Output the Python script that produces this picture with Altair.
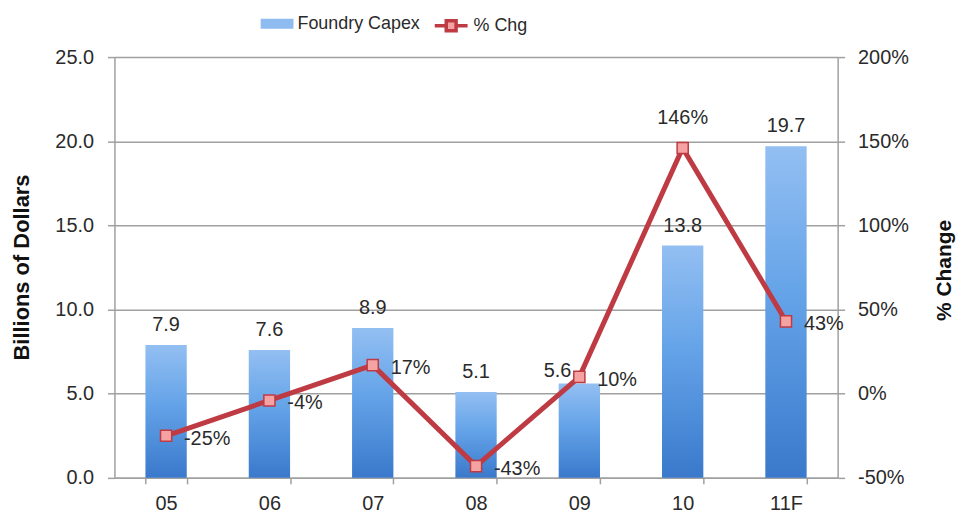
import altair as alt
import pandas as pd

# ---- data ----
years = ["05", "06", "07", "08", "09", "10", "11F"]
capex = [7.9, 7.6, 8.9, 5.1, 5.6, 13.8, 19.7]          # Billions of Dollars
pct_chg = [-25, -4, 17, -43, 10, 146, 43]              # % Change

df = pd.DataFrame({"year": years, "capex": capex, "pct": pct_chg})

FONT = "Liberation Sans"
RED = "#BE3B44"
PINK = "#F4A2A2"
BLUE_LEG = "#8EBBF0"
TXT = "#2a2a2a"
GRAY = "#A0A0A0"
LBL = 20

x_enc = alt.X(
    "year:N", sort=years, title=None,
    scale=alt.Scale(paddingInner=0.6, paddingOuter=0.3),
    axis=alt.Axis(labelAngle=0, labelFontSize=LBL, labelColor=TXT, labelPadding=10,
                  tickBand="extent", tickSize=6, tickColor=GRAY, domainColor=GRAY,
                  domainWidth=1.5, tickWidth=1.5),
)

left_axis = alt.Axis(
    title="Billions of Dollars", values=[0, 5, 10, 15, 20, 25], format=".1f",
    titleFontSize=22, titleFontWeight="bold", titleColor="#111",
    titleAngle=270, titleX=-93, titleY=211, titleAlign="center", titleBaseline="middle",
    labelFontSize=LBL, labelColor=TXT, labelPadding=14, tickSize=7,
    grid=True, gridColor=GRAY, gridWidth=1.5, domainColor=GRAY, tickColor=GRAY,
    domainWidth=1.5, tickWidth=1.5,
)
y_left = alt.Y("capex:Q", scale=alt.Scale(domain=[0, 25], nice=False), axis=left_axis)

right_axis = alt.Axis(
    orient="right", title="% Change", values=[-50, 0, 50, 100, 150, 200],
    labelExpr="datum.value + '%'",
    titleFontSize=21, titleFontWeight="bold", titleColor="#111",
    titleAngle=270, titleX=107, titleY=214, titleAlign="center", titleBaseline="middle",
    labelFontSize=LBL, labelColor=TXT, labelPadding=13, tickSize=7,
    grid=False, domainColor=GRAY, tickColor=GRAY, domainWidth=1.5, tickWidth=1.5,
)
y_right = alt.Y("pct:Q", scale=alt.Scale(domain=[-50, 200], nice=False), axis=right_axis)

base = alt.Chart(df)

gradient = alt.Gradient(
    gradient="linear",
    stops=[
        alt.GradientStop(color="#93BFF2", offset=0),
        alt.GradientStop(color="#64A3E8", offset=0.45),
        alt.GradientStop(color="#3A79CB", offset=1),
    ],
    x1=0, x2=0, y1=0, y2=1,
)

bars = base.mark_bar(fill=gradient).encode(x=x_enc, y=y_left)

bar_legend = base.transform_calculate(series="'Foundry Capex'").mark_bar(opacity=0).encode(
    x=x_enc, y=y_left,
    fill=alt.Fill(
        "series:N",
        scale=alt.Scale(domain=["Foundry Capex"], range=[BLUE_LEG]),
        legend=alt.Legend(
            title=None, orient="none", legendX=147, legendY=-50, padding=0,
            symbolType="M-1,-0.3H1V0.3H-1Z", symbolSize=1089, symbolOpacity=1,
            symbolStrokeWidth=0, labelFontSize=18, labelColor=TXT, labelOffset=4,
        ),
    ),
)

bar_labels = base.transform_filter(alt.datum.year != "09").mark_text(
    dy=-20, fontSize=LBL, color=TXT, font=FONT
).encode(x=x_enc, y=y_left, text=alt.Text("capex:Q", format=".1f"))

bar_label_shifted = base.transform_filter(alt.datum.year == "09").mark_text(
    dx=-22, dy=-13, fontSize=LBL, color=TXT, font=FONT
).encode(x=x_enc, y=y_left, text=alt.Text("capex:Q", format=".1f"))

left_group = alt.layer(bars, bar_legend, bar_labels, bar_label_shifted)

line = base.transform_calculate(series2="'% Chg'").mark_line(strokeWidth=5).encode(
    x=x_enc, y=y_right,
    stroke=alt.Stroke(
        "series2:N",
        scale=alt.Scale(domain=["% Chg"], range=[RED]),
        legend=alt.Legend(
            title=None, orient="none", legendX=320, legendY=-50, padding=0,
            symbolType="M-1,0H-0.32M0.32,0H1M-0.3,-0.3H0.3V0.3H-0.3Z",
            symbolSize=1089, symbolFillColor=PINK, symbolStrokeWidth=3.5,
            labelFontSize=18, labelColor=TXT, labelOffset=4,
        ),
    ),
)

points = base.mark_square(size=125, fill=PINK, stroke=RED, strokeWidth=1.5, opacity=1).encode(
    x=x_enc, y=y_right
)

pct_text = base.transform_calculate(lbl="datum.pct + '%'")
pct_labels = pct_text.transform_filter(alt.datum.year != "10").mark_text(
    align="left", dx=18, dy=3, fontSize=LBL, color=TXT, font=FONT
).encode(x=x_enc, y=y_right, text="lbl:N")
pct_label_top = pct_text.transform_filter(alt.datum.year == "10").mark_text(
    align="center", dy=-30, fontSize=LBL, color=TXT, font=FONT
).encode(x=x_enc, y=y_right, text="lbl:N")

right_group = alt.layer(line, points, pct_labels, pct_label_top)

chart = (
    alt.layer(left_group, right_group)
    .resolve_scale(y="independent")
    .properties(
        width=727, height=423,
        autosize=alt.AutoSizeParams(type="none"),
        padding={"left": 107, "top": 48, "right": 122, "bottom": 39},
    )
    .configure_view(stroke=None)
    .configure_axis(labelFont=FONT, titleFont=FONT)
    .configure_legend(labelFont=FONT)
    .configure_text(font=FONT)
)

chart.save("out.html", embed_options={"renderer": "svg", "actions": False})
